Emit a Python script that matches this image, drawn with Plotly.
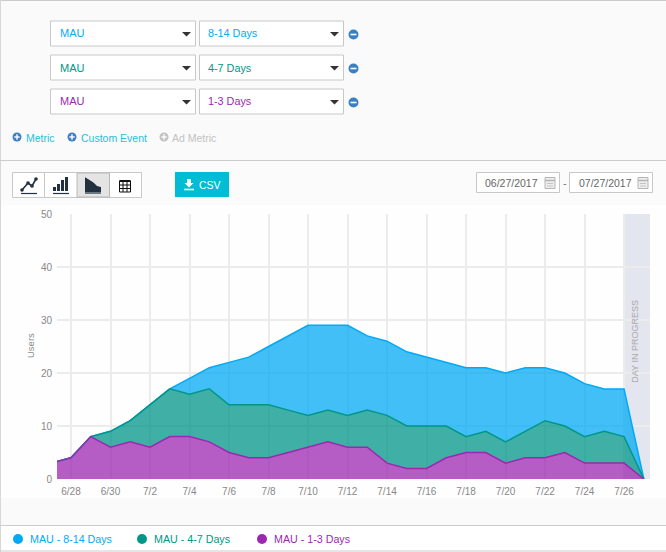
import plotly.graph_objects as go

W, H = 666, 552

dates = ["2017-06-27", "2017-06-28", "2017-06-29", "2017-06-30", "2017-07-01", "2017-07-02", "2017-07-03", "2017-07-04",
         "2017-07-05", "2017-07-06", "2017-07-07", "2017-07-08", "2017-07-09", "2017-07-10", "2017-07-11", "2017-07-12",
         "2017-07-13", "2017-07-14", "2017-07-15", "2017-07-16", "2017-07-17", "2017-07-18", "2017-07-19", "2017-07-20",
         "2017-07-21", "2017-07-22", "2017-07-23", "2017-07-24", "2017-07-25", "2017-07-26", "2017-07-27"]
mau_8_14 = [3, 4, 8, 9, 11, 14, 17, 19, 21, 22, 23, 25, 27, 29, 29, 29, 27, 26, 24, 23, 22, 21, 21, 20, 21, 21, 20, 18, 17, 17, 0]
mau_4_7 = [3, 4, 8, 9, 11, 14, 17, 16, 17, 14, 14, 14, 13, 12, 13, 12, 13, 12, 10, 10, 10, 8, 9, 7, 9, 11, 10, 8, 9, 8, 0]
mau_1_3 = [3, 4, 8, 6, 7, 6, 8, 8, 7, 5, 4, 4, 5, 6, 7, 6, 6, 3, 2, 2, 4, 5, 5, 3, 4, 4, 5, 3, 3, 3, 0]

BLUE, GREEN, PURPLE = "#03a9f4", "#009688", "#9c27b0"
FONT = "Liberation Sans"


def X(px):
    return px / W


def Y(py):
    return 1 - py / H


shapes = []
notes = []


def rect(x0, y0, x1, y1, fill=None, line=None, width=1, layer="below"):
    shapes.append(dict(type="rect", xref="paper", yref="paper", x0=X(x0), y0=Y(y0), x1=X(x1), y1=Y(y1),
                       fillcolor=fill, line=dict(color=line, width=width if line else 0), layer=layer))


def circle(cx, cy, r, fill, layer="above"):
    shapes.append(dict(type="circle", xref="paper", yref="paper", x0=X(cx - r), y0=Y(cy - r), x1=X(cx + r), y1=Y(cy + r),
                       fillcolor=fill, line=dict(width=0), layer=layer))


def hline(x0, x1, y, color, width=1, layer="above"):
    shapes.append(dict(type="line", xref="paper", yref="paper", x0=X(x0), y0=Y(y), x1=X(x1), y1=Y(y),
                       line=dict(color=color, width=width), layer=layer))


def vline(x, y0, y1, color, width=1, layer="above"):
    shapes.append(dict(type="line", xref="paper", yref="paper", x0=X(x), y0=Y(y0), x1=X(x), y1=Y(y1),
                       line=dict(color=color, width=width), layer=layer))


def poly(points, fill=None, line=None, width=1, closed=True):
    d = "M" + " L".join(f"{X(px):.5f},{Y(py):.5f}" for px, py in points) + (" Z" if closed else "")
    shapes.append(dict(type="path", xref="paper", yref="paper", path=d, fillcolor=fill,
                       line=dict(color=line, width=width if line else 0), layer="above"))


def text(px, py, s, color, size=11, anchor="left", angle=0):
    notes.append(dict(xref="paper", yref="paper", x=X(px), y=Y(py), text=s, showarrow=False, xanchor=anchor,
                      yanchor="middle", textangle=angle, borderpad=0, font=dict(family=FONT, size=size, color=color)))


# page panels
rect(0, 0, W, 160, fill="#fafafa")
rect(0, 160, W, 205, fill="#fbfbfb")
rect(0, 205, W, 498, fill="#fefefe")
rect(0, 498, W, 525, fill="#fafafa")
rect(0, 525, W, 552, fill="#ffffff")
hline(0, W, 0.5, "#cccccc", 1)
vline(0.5, 0, 552, "#d8d8d8", 1)
hline(0, W, 160.5, "#cccccc", 1)
hline(0, W, 525.5, "#cccccc", 1)
hline(0, W, 551, "#cccccc", 1)

# metric dropdown rows
rows = [(33.5, "8-14 Days", BLUE), (67.5, "4-7 Days", GREEN), (101.5, "1-3 Days", PURPLE)]
for cy, label, color in rows:
    rect(50.5, cy - 12.5, 195.5, cy + 12.5, fill="#ffffff", line="#c8c8c8")
    rect(199.5, cy - 12.5, 343.5, cy + 12.5, fill="#ffffff", line="#c8c8c8", layer="below")
    text(59, cy, "MAU", color)
    text(207, cy, label, color, 10.8)
    poly([(182, cy - 1.5), (191, cy - 1.5), (186.5, cy + 3)], fill="#333333")
    poly([(330, cy - 1.5), (339, cy - 1.5), (334.5, cy + 3)], fill="#333333")
    circle(353.5, cy + 1, 5, "#3b7fc4")
    hline(350.5, 356.5, cy + 1, "#ffffff", 1.6)

# add metric links
for cx, lx, label, icon, color in [(17, 25, "Metric", "#3b7fc4", "#26c1d8"),
                                   (72, 80, "Custom Event", "#3b7fc4", "#26c1d8"),
                                   (164, 171, "Ad Metric", "#c2c2c2", "#c2c2c2")]:
    circle(cx, 137, 4.5, icon)
    hline(cx - 2.7, cx + 2.7, 137, "#ffffff", 1.4)
    vline(cx, 134.3, 139.7, "#ffffff", 1.4)
    text(lx, 138, label, color, 10.5)

# chart type buttons
rect(12.5, 172.5, 141.5, 197.5, fill="#ffffff", line="#c8c8c8")
rect(77, 173, 109.5, 197, fill="#e4e4e4", line="#b8b8b8")
vline(44.5, 173, 197, "#c8c8c8")
DARK = "#22303f"
poly([(22, 190), (28, 183), (32, 186), (36, 179)], line=DARK, width=1.6, closed=False)
hline(21, 37, 193.5, DARK, 1.2)
circle(22, 190, 1.8, DARK)
circle(28, 183, 1.8, DARK)
circle(32, 186, 1.8, DARK)
circle(36, 179, 1.8, DARK)
for bx, top in [(53, 187), (57, 184), (61, 180), (65, 177)]:
    rect(bx, top, bx + 3, 191, fill=DARK, layer="above")
hline(53, 69, 193.5, DARK, 1.2)
poly([(85, 177), (93, 182), (97, 186), (101, 187), (101, 192), (85, 192)], fill=DARK)
poly([(85, 177), (101, 187), (101, 184), (93, 179), (85, 176)], fill="#e4e4e4")
hline(85, 101, 193, DARK, 1.2)
rect(119.5, 181, 130.5, 192, fill="#ffffff", line="#111111", layer="above")
rect(119.5, 180, 130.5, 182, fill="#111111", layer="above")
for gx in (123, 127):
    vline(gx, 181, 192, "#111111", 1)
for gy in (185, 188.5):
    hline(119.5, 130.5, gy, "#111111", 1)

# csv button
rect(175, 172, 229, 197, fill="#00bcd4")
poly([(187, 179), (191, 179), (191, 183), (193.5, 183), (189, 187.5), (184.5, 183), (187, 183)], fill="#ffffff")
hline(184, 194, 189.5, "#ffffff", 1.6)
text(197.5, 185, "CSV", "#ffffff", 10.5)

# date pickers
rect(476.5, 172.5, 559.5, 192.5, fill="#ffffff", line="#c8c8c8")
rect(569.5, 172.5, 652.5, 192.5, fill="#ffffff", line="#c8c8c8")
text(484, 183, "06/27/2017", "#666666", 10.5)
text(578, 183, "07/27/2017", "#666666", 10.5)
text(564.5, 183, "-", "#777777", 11, anchor="center")
for cx in (550, 643):
    rect(cx - 5, 177.5, cx + 5, 188.5, fill="#eeeeee", line="#b5b5b5", layer="above")
    hline(cx - 5, cx + 5, 180.5, "#b5b5b5", 1.5)
    hline(cx - 3, cx + 3, 183.5, "#c4c4c4", 1)
    hline(cx - 3, cx + 3, 186, "#c4c4c4", 1)

# day in progress band
shapes.append(dict(type="rect", xref="x", yref="y", x0="2017-07-26", x1="2017-07-27 07:30", y0=0, y1=50,
                   fillcolor="#e3e6ee", line=dict(width=0), layer="below"))
notes.append(dict(xref="x", yref="y", x="2017-07-26 14:00", y=26, text="DAY IN PROGRESS", showarrow=False, textangle=-90,
                  font=dict(family=FONT, size=9, color="#a9a9a9")))

# legend
for cx, lx, label, color in [(18, 29, "MAU - 8-14 Days", BLUE), (142, 153, "MAU - 4-7 Days", GREEN),
                             (262, 273, "MAU - 1-3 Days", PURPLE)]:
    circle(cx, 539, 5, color)
    text(lx, 539, label, color, 10.7)

text(30, 346, "Users", "#8a8a8a", 9.5, anchor="center", angle=-90)

fig = go.Figure()
# fills stack between each other so the colours do not mix
fig.add_trace(go.Scatter(x=dates, y=mau_1_3, fill="tozeroy", mode="none", fillcolor="rgba(156,39,176,0.75)"))
fig.add_trace(go.Scatter(x=dates, y=mau_4_7, fill="tonexty", mode="none", fillcolor="rgba(0,150,136,0.75)"))
fig.add_trace(go.Scatter(x=dates, y=mau_8_14, fill="tonexty", mode="none", fillcolor="rgba(3,169,244,0.75)"))
for vals, color in [(mau_8_14, BLUE), (mau_4_7, GREEN), (mau_1_3, PURPLE)]:
    fig.add_trace(go.Scatter(x=dates, y=vals, mode="lines", line=dict(color=color, width=1.5)))

fig.update_layout(
    width=W, height=H, margin=dict(l=0, r=0, t=0, b=0),
    paper_bgcolor="#ffffff", plot_bgcolor="rgba(0,0,0,0)", showlegend=False,
    shapes=shapes, annotations=notes,
    xaxis=dict(domain=[X(57), X(650)], type="date", range=["2017-06-27 07:00", "2017-07-27 07:30"], automargin=False,
               tick0="2017-06-28", dtick=172800000, tickformat="%-m/%-d", showgrid=True, gridcolor="#ececec", gridwidth=1.5,
               zeroline=False, showline=False, ticks="", ticklabelstandoff=5,
               tickfont=dict(family=FONT, size=10, color="#888888")),
    yaxis=dict(domain=[Y(479), Y(214)], range=[0, 50], tick0=0, dtick=10, showgrid=True, gridcolor="#ececec", gridwidth=1.5,
               automargin=False, zeroline=False, showline=False, ticks="", ticklabelstandoff=4,
               tickfont=dict(family=FONT, size=10, color="#888888")),
)

fig.write_html("out.html", config=dict(displayModeBar=False), post_script="document.body.style.margin='0';")
